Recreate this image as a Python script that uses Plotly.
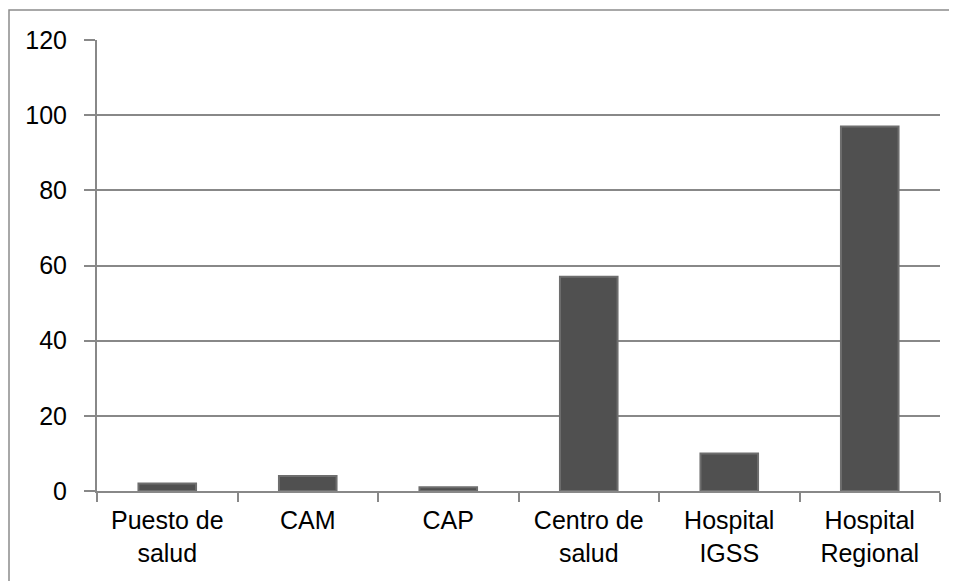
import plotly.graph_objects as go

categories = ["Puesto de<br>salud", "CAM", "CAP", "Centro de<br>salud", "Hospital<br>IGSS", "Hospital<br>Regional"]
values = [2, 4, 1, 57, 10, 97]
y_ticks = [0, 20, 40, 60, 80, 100, 120]

# page has an 8px body margin; size the figure so the plot lands where the reference has it
OFF = 8
W, H = 957 - OFF, 581 - OFF
ml, mr, mt, mb = 97 - OFF, 17, 40 - OFF, 90

fig = go.Figure()
fig.add_trace(go.Bar(
    x=categories, y=values,
    width=0.41,
    marker=dict(color="#505050", line=dict(color="#6e6e6e", width=2)),
    hoverinfo="x+y",
))

grid = "#888888"
pw, ph = W - ml - mr, H - mt - mb
fig.update_layout(
    width=W, height=H,
    margin=dict(l=ml, r=mr, t=mt, b=mb),
    paper_bgcolor="white", plot_bgcolor="white",
    showlegend=False,
    font=dict(family="Liberation Sans, Arial, sans-serif", size=25, color="black"),
    xaxis=dict(
        showline=True, linecolor=grid, linewidth=2,
        ticks="outside", ticklen=9, tickcolor=grid, tickwidth=2,
        tickson="boundaries", showgrid=False,
        tickfont=dict(size=25, color="black"),
        ticklabelstandoff=6,
    ),
    yaxis=dict(
        range=[0, 120], tickvals=y_ticks,
        showline=True, linecolor=grid, linewidth=2,
        ticks="outside", ticklen=11, tickcolor=grid, tickwidth=2,
        showgrid=True, gridcolor=grid, gridwidth=1.5,
        zeroline=False,
        tickfont=dict(size=25, color="black"),
        ticklabelstandoff=12,
    ),
    shapes=[dict(
        type="rect", xref="paper", yref="paper", layer="below",
        x0=(9 - OFF - ml) / pw, x1=(W + 5 - ml) / pw,
        y0=-(mb + 10) / ph, y1=(H - mb - (10 - OFF)) / ph,
        line=dict(color="#8c8c8c", width=1.5), fillcolor="rgba(0,0,0,0)",
    )],
)

fig.write_html("out.html")
